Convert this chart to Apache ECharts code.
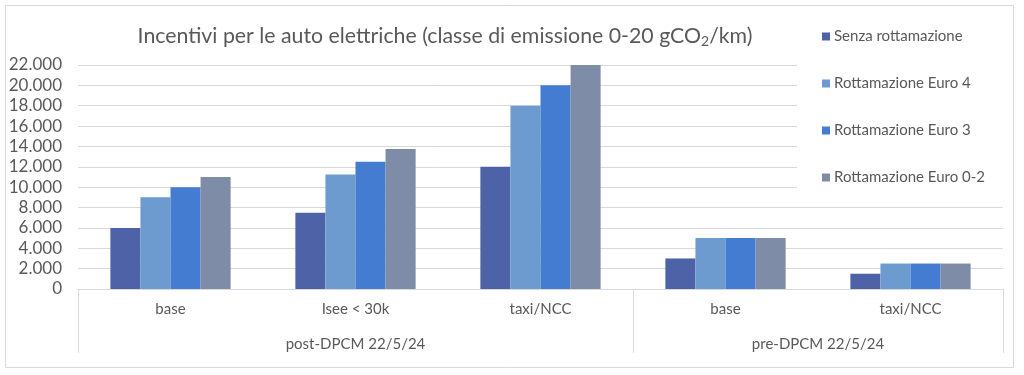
<!DOCTYPE html>
<html>
<head>
<meta charset="utf-8">
<script src="https://cdn.jsdelivr.net/npm/echarts@6/dist/echarts.min.js"></script>
<style>
html,body{margin:0;padding:0;background:#fff;}
#c{width:1024px;height:375px;}
</style>
</head>
<body>
<div id="c"></div>
<script>
// ---- data ----
const categories = ['base', 'Isee < 30k', 'taxi/NCC', 'base', 'taxi/NCC'];
const groups = ['post-DPCM 22/5/24', 'pre-DPCM 22/5/24'];
const groupSizes = [3, 2];
const seriesNames = ['Senza rottamazione', 'Rottamazione Euro 4', 'Rottamazione Euro 3', 'Rottamazione Euro 0-2'];
const senza = [6000, 7500, 12000, 3000, 1500];
const euro4 = [9000, 11250, 18000, 5000, 2500];
const euro3 = [10000, 12500, 20000, 5000, 2500];
const euro02 = [11000, 13750, 22000, 5000, 2500];
const yTicks = [0, 2000, 4000, 6000, 8000, 10000, 12000, 14000, 16000, 18000, 20000, 22000];

const values = [senza, euro4, euro3, euro02];
const colors = ['#4e62a8', '#6d9bcf', '#437cd0', '#7f8ca8'];

// ---- layout ----
const W = 1024, H = 375;
const gLeft = 78, gRight = 21, gTop = 65, gBottom = 86;
const gH = H - gTop - gBottom;
const yMax = yTicks[yTicks.length - 1];
const legendEdge = 797; // upper gridlines stop before the legend
const upperFrom = 10000, lowerTo = 8000;
const pxFor = v => gTop + gH * (1 - v / yMax);

const fmt = v => String(v).replace(/\B(?=(\d{3})+(?!\d))/g, '.');
const txt = '#595959';
const gridCol = '#d9d9d9';
const font = 'Lato';

// group boundaries and centres
const bounds = [0];
groupSizes.forEach(s => bounds.push(bounds[bounds.length - 1] + s));
const centres = groupSizes.map((s, i) => bounds[i] + s / 2);

const chart = echarts.init(document.getElementById('c'), null, {renderer: 'canvas'});
chart.setOption({
  animation: false,
  backgroundColor: '#fff',
  textStyle: {fontFamily: font},
  title: {
    text: 'Incentivi per le auto elettriche (classe di emissione 0-20 gCO{s|2}/km)',
    left: 440, top: 19, textAlign: 'center',
    textStyle: {
      fontFamily: font, fontSize: 21.3, fontWeight: 'normal', color: txt,
      rich: {s: {fontFamily: font, fontSize: 14, color: txt, padding: [10, 0, 0, 0]}}
    }
  },
  legend: {
    orient: 'vertical', left: 817, top: 23,
    itemWidth: 8, itemHeight: 8, itemGap: 30,
    icon: 'rect',
    textStyle: {fontFamily: font, fontSize: 15, color: txt, lineHeight: 17, padding: [0, 0, 0, -1]},
    data: seriesNames
  },
  grid: [
    {left: gLeft, right: gRight, top: gTop, bottom: gBottom},
    {left: gLeft, right: W - legendEdge, top: gTop, height: pxFor(upperFrom) - gTop},
    {left: gLeft, right: gRight, top: pxFor(lowerTo), height: pxFor(0) - pxFor(lowerTo)}
  ],
  xAxis: [
    {
      type: 'category', gridIndex: 0, data: categories,
      axisLine: {lineStyle: {color: gridCol, width: 1}},
      axisTick: {show: false},
      axisLabel: {color: txt, fontSize: 15, fontFamily: font, margin: 13}
    },
    {
      type: 'value', gridIndex: 0, position: 'bottom', min: 0, max: bounds[bounds.length - 1],
      axisLine: {show: false},
      splitLine: {show: false},
      axisTick: {show: true, customValues: bounds, length: 64, lineStyle: {color: gridCol, width: 1}},
      axisLabel: {
        show: true, customValues: centres, color: txt, fontSize: 15, fontFamily: font, margin: 48,
        formatter: v => groups[centres.indexOf(v)] || ''
      }
    },
    {type: 'value', gridIndex: 1, show: false, min: 0, max: 1},
    {type: 'value', gridIndex: 2, show: false, min: 0, max: 1}
  ],
  yAxis: [
    {
      type: 'value', gridIndex: 0, min: 0, max: yMax, interval: 2000,
      axisLine: {show: false}, axisTick: {show: false},
      splitLine: {show: false},
      axisLabel: {color: txt, fontSize: 17, fontFamily: font, margin: 16, formatter: fmt}
    },
    {
      type: 'value', gridIndex: 1, min: upperFrom, max: yMax, interval: 2000,
      axisLine: {show: false}, axisTick: {show: false}, axisLabel: {show: false},
      splitLine: {show: true, lineStyle: {color: gridCol, width: 1}}
    },
    {
      type: 'value', gridIndex: 2, min: 0, max: lowerTo, interval: 2000,
      axisLine: {show: false}, axisTick: {show: false}, axisLabel: {show: false},
      splitLine: {show: true, lineStyle: {color: gridCol, width: 1}}
    }
  ],
  graphic: [{
    type: 'rect', shape: {x: 5.5, y: 5.5, width: 1008, height: 362},
    style: {fill: 'none', stroke: gridCol, lineWidth: 1}, z: -1, silent: true
  }],
  series: seriesNames.map((n, i) => ({
    name: n, type: 'bar', xAxisIndex: 0, yAxisIndex: 0,
    data: values[i],
    barGap: '0%', barCategoryGap: '35%',
    itemStyle: {color: colors[i]},
    z: 3
  }))
});
</script>
</body>
</html>
